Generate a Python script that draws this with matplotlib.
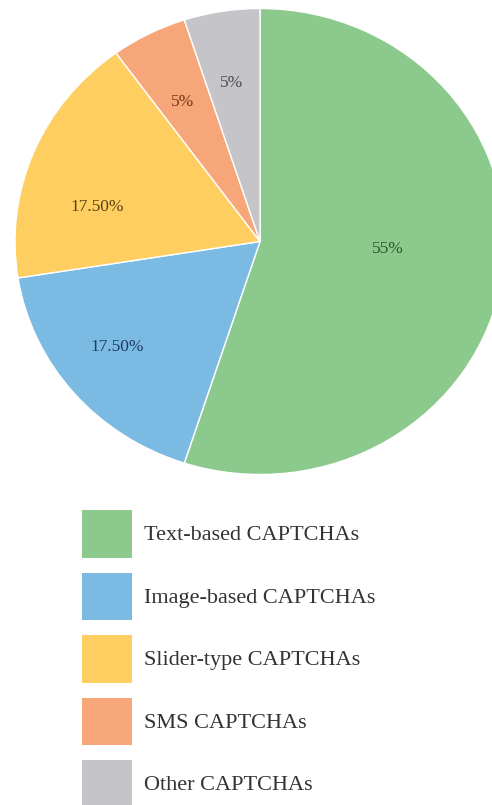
import numpy as np
import matplotlib
matplotlib.use("Agg")
import matplotlib.pyplot as plt

# CAPTCHA types and their share (%)
categories = ["Text-based CAPTCHAs", "Image-based CAPTCHAs", "Slider-type CAPTCHAs",
              "SMS CAPTCHAs", "Other CAPTCHAs"]
shares = [55, 17.5, 17.5, 5, 5]
pct_labels = ["55%", "17.50%", "17.50%", "5%", "5%"]

colors = ["#8cc98c", "#7bbae2", "#fece60", "#f6a678", "#c5c5c9"]
text_colors = ["#2e5a30", "#1f3d66", "#5a4310", "#7a3518", "#4a4a55"]
# label placement tweaks (radius, angle shift in degrees)
label_r = [0.523, 0.738, 0.682, 0.678, 0.691]
label_shift = [5.3, -2.8, 9.8, 0.6, 0.5]

plt.rcParams["font.family"] = ["Liberation Serif", "DejaVu Serif"]

W, H = 492, 805
fig = plt.figure(figsize=(W / 100, H / 100), dpi=100)

# pie is slightly wider than tall in the reference
left, right, top, bottom = 15, 505, 8.5, 474.5
ax = fig.add_axes([left / W, 1 - bottom / H, (right - left) / W, (bottom - top) / H])
wedges, _ = ax.pie(shares, colors=colors, startangle=90, counterclock=False,
                   wedgeprops=dict(edgecolor="white", linewidth=1.0))
ax.set_aspect("auto")
ax.set_xlim(-1, 1)
ax.set_ylim(-1, 1)
ax.axis("off")
for w in wedges:
    w.set_clip_on(False)

for w, lab, tc, r, sh in zip(wedges, pct_labels, text_colors, label_r, label_shift):
    mid = np.deg2rad((w.theta1 + w.theta2) / 2 + sh)
    ax.text(r * np.cos(mid), r * np.sin(mid), lab, ha="center", va="center",
            fontsize=12.5, color=tc)

fs = 16
fig.legend(wedges, categories, loc="upper left",
           bbox_to_anchor=(82 / W, 1 - 510 / H), bbox_transform=fig.transFigure,
           frameon=False, fontsize=fs, borderpad=0, borderaxespad=0,
           handlelength=2.25, handleheight=2.92, labelspacing=0.67,
           handletextpad=0.55, labelcolor="#333333")
for h in fig.legends[0].legend_handles:
    h.set_edgecolor("none")

fig.savefig("out.png", dpi=100)
